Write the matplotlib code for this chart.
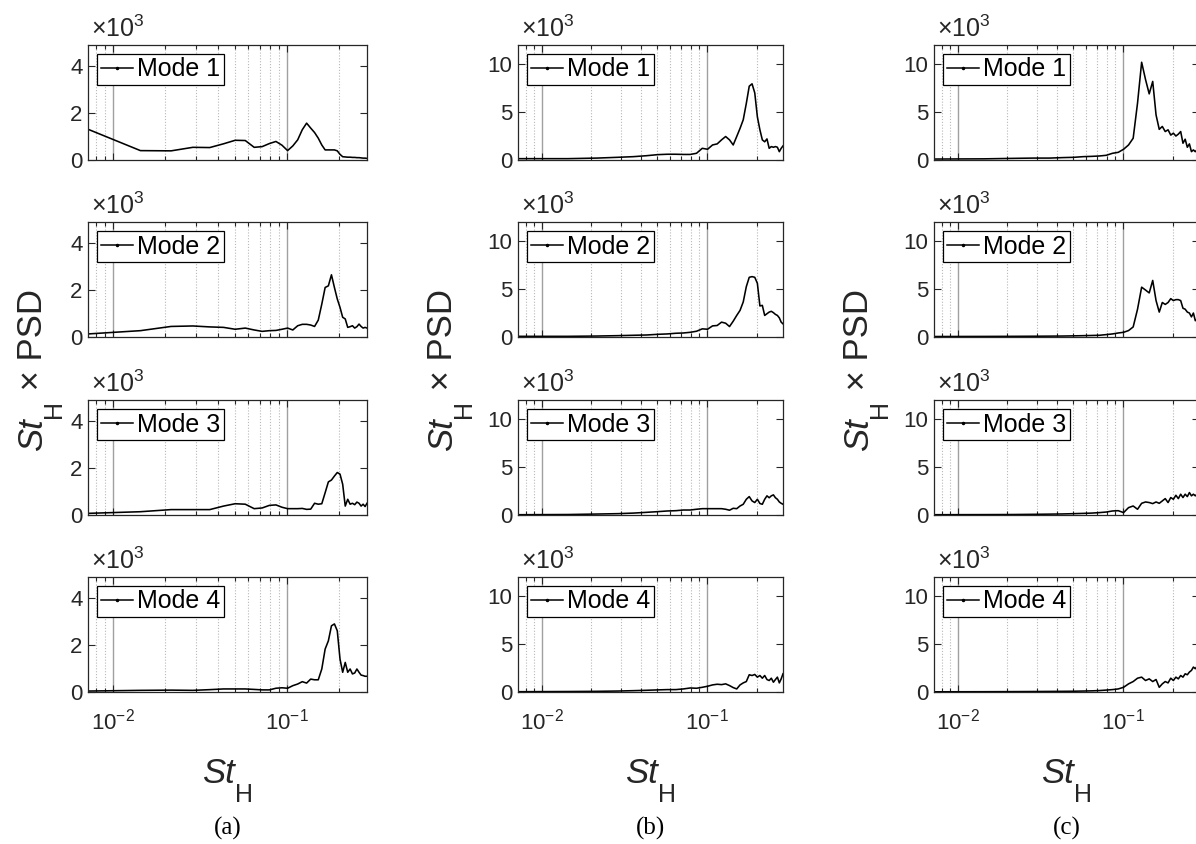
import numpy as np
import matplotlib
matplotlib.use("Agg")
import matplotlib.pyplot as plt
from matplotlib.lines import Line2D
from matplotlib.ticker import LogLocator, NullFormatter, LogFormatterSciNotation

plt.rcParams['font.family'] = ['Liberation Sans', 'DejaVu Sans']
plt.rcParams['mathtext.fontset'] = 'custom'
plt.rcParams['mathtext.rm'] = 'Liberation Sans'
plt.rcParams['mathtext.it'] = 'Liberation Sans:italic'
plt.rcParams['mathtext.bf'] = 'Liberation Sans:bold'

# ---------------- data (PSD values in units of 10^3) ----------------
df = 0.0072
st = df * np.arange(1, 41)

a_mode1 = [1.31, 0.40, 0.39, 0.54, 0.53, 0.69, 0.84, 0.83, 0.54, 0.57, 0.70, 0.79, 0.63, 0.40, 0.60, 0.86, 1.29, 1.57, 1.36, 1.17,
           0.93, 0.64, 0.43, 0.43, 0.43, 0.43, 0.39, 0.24, 0.14, 0.13, 0.12, 0.12, 0.11, 0.11, 0.10, 0.10, 0.09, 0.08, 0.08, 0.07]
a_mode2 = [0.13, 0.27, 0.45, 0.47, 0.43, 0.41, 0.33, 0.38, 0.30, 0.24, 0.27, 0.28, 0.33, 0.38, 0.30, 0.48, 0.54, 0.54, 0.51, 0.45,
           0.72, 1.40, 2.11, 2.18, 2.65, 2.11, 1.62, 1.26, 0.84, 0.77, 0.41, 0.44, 0.48, 0.38, 0.44, 0.55, 0.45, 0.38, 0.41, 0.38]
a_mode3 = [0.07, 0.14, 0.23, 0.23, 0.23, 0.38, 0.48, 0.46, 0.27, 0.30, 0.41, 0.43, 0.33, 0.27, 0.27, 0.27, 0.28, 0.24, 0.25, 0.50,
           0.46, 0.48, 0.95, 1.41, 1.49, 1.66, 1.81, 1.74, 1.31, 0.38, 0.67, 0.46, 0.50, 0.44, 0.55, 0.50, 0.38, 0.46, 0.36, 0.50]
a_mode4 = [0.04, 0.07, 0.08, 0.07, 0.10, 0.13, 0.13, 0.13, 0.11, 0.09, 0.09, 0.16, 0.18, 0.16, 0.27, 0.34, 0.44, 0.38, 0.55, 0.52,
           0.52, 0.98, 1.83, 2.18, 2.82, 2.90, 2.61, 1.40, 0.84, 1.26, 0.84, 0.98, 0.77, 0.81, 0.98, 0.84, 0.72, 0.70, 0.67, 0.67]

b_mode1 = [0.14, 0.14, 0.20, 0.28, 0.35, 0.45, 0.56, 0.60, 0.60, 0.58, 0.58, 0.70, 1.22, 1.12, 1.57, 1.68, 2.10, 2.45, 2.10, 1.57,
           2.45, 3.30, 4.20, 5.90, 7.70, 7.95, 7.00, 4.50, 3.15, 2.10, 1.90, 2.20, 1.22, 1.40, 1.33, 1.40, 1.33, 0.87, 1.22, 1.47]
b_mode2 = [0.07, 0.07, 0.10, 0.14, 0.18, 0.21, 0.28, 0.32, 0.39, 0.42, 0.49, 0.60, 0.85, 0.81, 1.16, 1.20, 1.55, 1.44, 1.09, 1.65,
           2.25, 2.78, 3.66, 5.25, 6.23, 6.30, 6.23, 5.60, 3.24, 3.30, 2.25, 2.43, 2.60, 2.68, 2.54, 2.36, 2.25, 2.00, 1.55, 1.37]
b_mode3 = [0.03, 0.05, 0.10, 0.14, 0.20, 0.28, 0.35, 0.42, 0.45, 0.52, 0.52, 0.60, 0.66, 0.66, 0.66, 0.66, 0.66, 0.60, 0.50, 0.70,
           0.66, 0.94, 1.12, 1.64, 1.92, 1.47, 1.30, 1.64, 1.20, 1.12, 1.64, 2.00, 1.80, 2.00, 2.10, 1.80, 1.64, 1.36, 1.22, 1.12]
b_mode4 = [0.03, 0.05, 0.07, 0.10, 0.14, 0.18, 0.22, 0.25, 0.25, 0.32, 0.42, 0.39, 0.49, 0.60, 0.74, 0.81, 0.77, 0.85, 0.67, 0.46,
           0.32, 0.74, 0.95, 1.09, 1.80, 1.72, 1.83, 1.55, 1.72, 1.44, 1.72, 1.30, 1.20, 1.44, 1.02, 1.30, 1.55, 0.95, 1.37, 1.90]

c_mode1 = [0.10, 0.12, 0.17, 0.20, 0.20, 0.25, 0.28, 0.35, 0.38, 0.42, 0.49, 0.70, 0.80, 1.12, 1.57, 2.27, 5.94, 10.2, 8.4, 6.9,
           8.2, 4.7, 3.2, 3.5, 2.97, 3.15, 2.6, 2.8, 2.5, 2.7, 2.97, 1.75, 2.17, 1.33, 1.68, 0.87, 1.05, 0.87, 1.1, 0.9]
c_mode2 = [0.05, 0.06, 0.07, 0.08, 0.09, 0.10, 0.12, 0.14, 0.16, 0.18, 0.25, 0.32, 0.42, 0.49, 0.67, 1.05, 2.9, 5.2, 4.9, 4.6,
           5.9, 3.8, 2.6, 3.6, 3.4, 3.6, 4.0, 3.8, 3.9, 3.9, 3.8, 3.0, 2.9, 2.6, 2.5, 2.1, 2.5, 1.7, 1.9, 1.6]
c_mode3 = [0.03, 0.04, 0.05, 0.07, 0.09, 0.11, 0.14, 0.17, 0.20, 0.25, 0.31, 0.42, 0.45, 0.25, 0.77, 0.94, 0.60, 1.22, 1.36, 1.30,
           1.19, 1.36, 1.22, 1.47, 1.71, 1.30, 1.82, 1.64, 2.06, 1.71, 2.17, 1.82, 2.17, 1.92, 2.34, 2.00, 2.17, 2.00, 2.2, 2.0]
c_mode4 = [0.02, 0.03, 0.04, 0.05, 0.06, 0.07, 0.08, 0.10, 0.12, 0.15, 0.20, 0.25, 0.32, 0.49, 0.85, 1.09, 1.44, 1.55, 1.20, 1.37,
           1.09, 1.30, 0.49, 0.85, 1.09, 0.95, 1.44, 1.20, 1.55, 1.37, 1.72, 1.55, 1.90, 1.80, 2.08, 2.25, 2.60, 2.43, 2.7, 2.6]

columns = [[a_mode1, a_mode2, a_mode3, a_mode4],
           [b_mode1, b_mode2, b_mode3, b_mode4],
           [c_mode1, c_mode2, c_mode3, c_mode4]]
mode_labels = ['Mode 1', 'Mode 2', 'Mode 3', 'Mode 4']
panel_labels = ['(a)', '(b)', '(c)']
col_ylim = [4.9, 12.0, 12.0]
col_yticks = [[0, 2, 4], [0, 5, 10], [0, 5, 10]]

# ---------------- layout ----------------
W, H = 1196, 844
fig = plt.figure(figsize=(W / 100, H / 100), dpi=100)
col_px = [(88, 367), (518, 783), (934, 1199)]
row_px = [(45, 160), (222, 337), (400, 515), (577, 692)]
ylab_base_px = [42, 452, 868]     # baseline (right edge) of rotated y label
tc = '#262626'

for ci, (x0, x1) in enumerate(col_px):
    for ri, (y0, y1) in enumerate(row_px):
        ax = fig.add_axes([x0 / W, 1 - y1 / H, (x1 - x0) / W, (y1 - y0) / H])
        ax.plot(st, columns[ci][ri], color='k', lw=1.15)
        ax.set_xscale('log')
        ax.set_xlim(st[0], st[-1])
        ax.set_ylim(0, col_ylim[ci])
        ax.set_yticks(col_yticks[ci])
        ax.xaxis.set_major_locator(LogLocator(base=10))
        ax.xaxis.set_minor_locator(LogLocator(base=10, subs=np.arange(2, 10)))
        ax.xaxis.set_minor_formatter(NullFormatter())
        if ri == 3:
            ax.xaxis.set_major_formatter(LogFormatterSciNotation())
        else:
            ax.set_xticklabels([])
        ax.set_axisbelow(True)
        ax.grid(True, which='major', axis='x', color='#a0a0a0', lw=1.0, ls='-')
        ax.grid(True, which='minor', axis='x', color='#b8b8b8', lw=0.8, ls=(0, (1, 1.6)))
        ax.tick_params(which='both', direction='in', top=True, right=True,
                       colors=tc, labelsize=16, width=0.8)
        ax.tick_params(which='major', length=5)
        ax.tick_params(axis='y', which='major', pad=4)
        ax.tick_params(axis='x', which='major', pad=12)
        ax.tick_params(which='minor', length=3)
        for s in ax.spines.values():
            s.set_color(tc)
            s.set_linewidth(0.9)
        h = Line2D([], [], color='k', lw=1.1, marker='.', markersize=3)
        leg = ax.legend([h], [mode_labels[ri]], loc='upper left', fontsize=18,
                        frameon=True, fancybox=False, framealpha=1, edgecolor='k',
                        borderpad=0.15, borderaxespad=0.35, handlelength=1.3,
                        handletextpad=0.15)
        leg.get_frame().set_linewidth(0.9)
        ax.text(0.012, 1.03, '×' + r'$\mathregular{10^{3}}$', transform=ax.transAxes,
                ha='left', va='bottom', fontsize=18, color=tc)

    xc = (x0 + min(x1, 1199)) / 2
    fig.text(xc / W, 1 - 828 / H, panel_labels[ci], ha='center', va='center',
             fontsize=18, family='Liberation Serif', color='k')

# ---------- axis labels with deep (MATLAB-like) subscripts ----------
fig.canvas.draw()
renderer = fig.canvas.get_renderer()
drop = 19  # px

for ci, (x0, x1) in enumerate(col_px):
    xc = (x0 + min(x1, 1199)) / 2
    # x label: St_H
    t1 = fig.text(0, 0, 'St', fontsize=25, fontstyle='italic', color=tc,
                  ha='left', va='baseline')
    t2 = fig.text(0, 0, 'H', fontsize=18, color=tc, ha='left', va='baseline')
    w1 = t1.get_window_extent(renderer).width
    w2 = t2.get_window_extent(renderer).width
    xs = xc - (w1 + w2) / 2
    ybase = 783
    t1.set_position((xs / W, 1 - ybase / H))
    t2.set_position(((xs + w1) / W, 1 - (ybase + drop) / H))

    # y label: St_H × PSD (rotated)
    xb = ylab_base_px[ci]
    r1 = fig.text(0, 0, 'St', fontsize=25, fontstyle='italic', color=tc, rotation=90,
                  rotation_mode='anchor', ha='left', va='baseline')
    r2 = fig.text(0, 0, 'H', fontsize=18, color=tc, rotation=90,
                  rotation_mode='anchor', ha='left', va='baseline')
    r3 = fig.text(0, 0, ' × PSD', fontsize=25, color=tc, rotation=90,
                  rotation_mode='anchor', ha='left', va='baseline')
    l1 = r1.get_window_extent(renderer).height
    l2 = r2.get_window_extent(renderer).height
    l3 = r3.get_window_extent(renderer).height
    total = l1 + l2 + l3
    ycen = 370
    ystart = ycen + total / 2
    r1.set_position((xb / W, 1 - ystart / H))
    r2.set_position(((xb + drop) / W, 1 - (ystart - l1) / H))
    r3.set_position((xb / W, 1 - (ystart - l1 - l2) / H))

fig.savefig('out.png', dpi=100)
